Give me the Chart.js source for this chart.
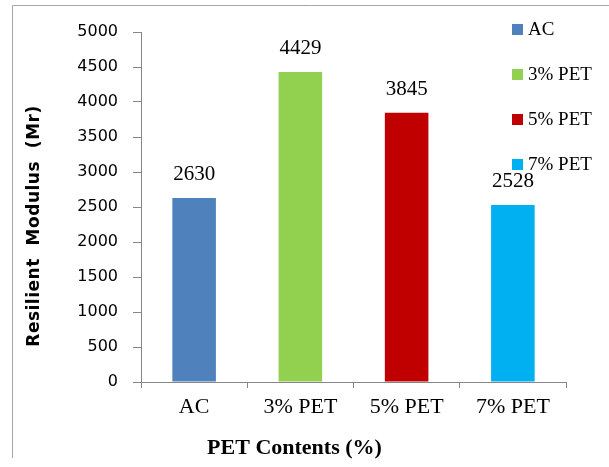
<!DOCTYPE html>
<html>
<head>
<meta charset="utf-8">
<script src="https://cdn.jsdelivr.net/npm/chart.js@4/dist/chart.umd.min.js"></script>
<style>
html,body{margin:0;padding:0;background:#fff;}
#wrap{width:609px;height:467px;position:relative;}
</style>
</head>
<body>
<div id="wrap"><canvas id="c" width="609" height="467"></canvas></div>
<script>
const categories = ['AC', '3% PET', '5% PET', '7% PET'];
const modulusValues = [2630, 4429, 3845, 2528];
const barColors = ['#4F81BD', '#92D050', '#C00000', '#00B0F0'];
const yTicks = [0, 500, 1000, 1500, 2000, 2500, 3000, 3500, 4000, 4500, 5000];
const yTitle = 'Resilient  Modulus  (Mr)';
const xTitle = 'PET Contents (%)';

const axisGray = '#868686';
const serif = '"Liberation Serif", "Times New Roman", serif';

const framePlugin = {
  id: 'frame',
  beforeDraw(chart) {
    const ctx = chart.ctx;
    ctx.save();
    ctx.strokeStyle = '#a6a6a6';
    ctx.lineWidth = 1;
    ctx.beginPath();
    ctx.moveTo(12.5, 458);
    ctx.lineTo(12.5, 5.5);
    ctx.lineTo(609, 5.5);
    ctx.stroke();
    ctx.restore();
  }
};

const labelsPlugin = {
  id: 'valueLabels',
  afterDatasetsDraw(chart) {
    const ctx = chart.ctx;
    const meta = chart.getDatasetMeta(0);
    ctx.save();
    ctx.font = '21px ' + serif;
    ctx.fillStyle = '#000';
    ctx.textAlign = 'center';
    ctx.textBaseline = 'alphabetic';
    meta.data.forEach((bar, i) => {
      ctx.fillText(String(modulusValues[i]), bar.x, bar.y - 18);
    });
    ctx.restore();
  }
};

const titlesPlugin = {
  id: 'axisTitles',
  afterDraw(chart) {
    const ctx = chart.ctx;
    const a = chart.chartArea;
    ctx.save();
    ctx.fillStyle = '#000';
    ctx.font = 'bold 17px "DejaVu Sans", Verdana, sans-serif';
    try { ctx.letterSpacing = '0.5px'; } catch (e) {}
    ctx.textAlign = 'center';
    ctx.textBaseline = 'middle';
    ctx.translate(a.left - 106, (a.top + a.bottom) / 2 + 19);
    ctx.rotate(-Math.PI / 2);
    ctx.fillText(yTitle, 0, 0);
    ctx.restore();
    ctx.save();
    ctx.fillStyle = '#000';
    ctx.font = 'bold 22px ' + serif;
    ctx.textAlign = 'center';
    ctx.textBaseline = 'middle';
    ctx.fillText(xTitle, (a.left + a.right) / 2 - 59, a.bottom + 66);
    ctx.restore();
  }
};

const legendPlugin = {
  id: 'sideLegend',
  afterDraw(chart) {
    const ctx = chart.ctx;
    const a = chart.chartArea;
    ctx.save();
    ctx.font = '19px ' + serif;
    ctx.textBaseline = 'middle';
    ctx.textAlign = 'left';
    const x0 = a.right - 54;
    categories.forEach((c, i) => {
      const yc = a.top - 2 + i * 45;
      ctx.fillStyle = barColors[i];
      ctx.fillRect(x0, yc - 6, 11, 11);
      ctx.fillStyle = '#000';
      ctx.fillText(c, x0 + 16, yc);
    });
    ctx.restore();
  }
};

new Chart(document.getElementById('c'), {
  type: 'bar',
  data: {
    labels: categories,
    datasets: [{
      label: 'Resilient Modulus',
      data: modulusValues,
      backgroundColor: barColors,
      borderWidth: 0,
      categoryPercentage: 1,
      barPercentage: 0.41
    }]
  },
  options: {
    responsive: false,
    animation: false,
    layout: { padding: { left: 0, right: 43, top: 32, bottom: 0 } },
    plugins: { legend: { display: false }, tooltip: { enabled: false }, title: { display: false } },
    scales: {
      x: {
        afterFit(s) { s.height = 85; },
        grid: { display: true, drawOnChartArea: false, drawTicks: true, tickLength: 6, color: axisGray, offset: true },
        border: { display: true, color: axisGray, width: 1 },
        ticks: { color: '#000', font: { family: serif, size: 22 }, padding: 6 }
      },
      y: {
        min: 0, max: 5000,
        afterFit(s) { s.width = 141; },
        afterBuildTicks(s) { s.ticks = yTicks.map(v => ({ value: v })); },
        grid: { display: true, drawOnChartArea: false, drawTicks: true, tickLength: 8, color: axisGray },
        border: { display: true, color: axisGray, width: 1 },
        ticks: {
          color: '#000',
          font: { family: '"DejaVu Sans", Verdana, sans-serif', size: 16 },
          padding: 15,
          callback: (v) => String(v)
        }
      }
    }
  },
  plugins: [framePlugin, labelsPlugin, titlesPlugin, legendPlugin]
});
</script>
</body>
</html>
